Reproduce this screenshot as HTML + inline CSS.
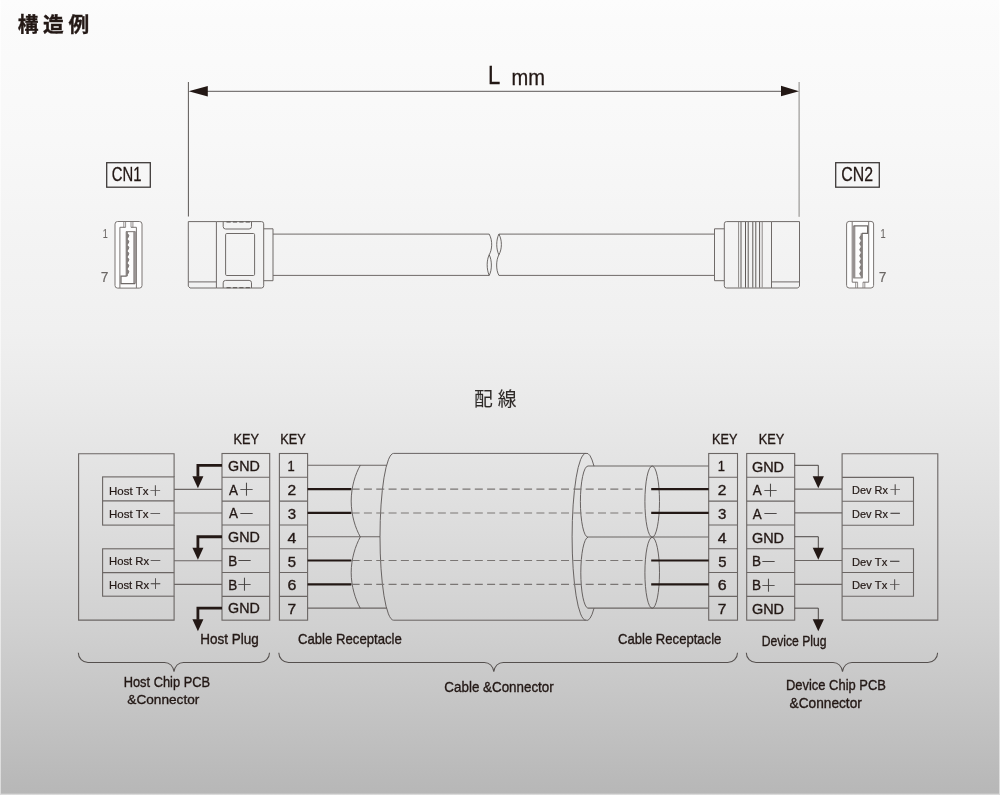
<!DOCTYPE html>
<html lang="ja">
<head>
<meta charset="utf-8">
<title>構造例</title>
<style>
html,body{margin:0;padding:0;background:#fff;}
body{width:1000px;height:795px;overflow:hidden;position:relative;}
#bg{position:absolute;left:0;top:0;width:1000px;height:795px;background:#f4f4f4;}
#grad{position:absolute;left:0;top:0;width:1000px;height:795px;background:linear-gradient(to bottom,#fcfcfc 0px,#fbfbfb 20px,#f8f8f8 140px,#f3f3f3 250px,#f0f0f0 330px,#ebebeb 390px,#e3e3e3 470px,#dadada 550px,#d0d0d0 630px,#c4c4c4 710px,#b9b9b9 780px,#b7b7b7 795px);}
.ed{position:absolute;background:rgba(255,255,255,.5);}
svg{position:absolute;left:0;top:0;will-change:transform;}
svg text{font-family:"Liberation Sans", "Noto Sans CJK JP", sans-serif;fill:#231815;stroke:#231815;}
</style>
</head>
<body>
<div id="bg"></div>
<div id="grad"></div>
<div class="ed" style="left:0;top:0;width:1px;height:795px"></div>
<div class="ed" style="left:999px;top:0;width:1px;height:795px"></div>
<div class="ed" style="left:1px;top:794px;width:998px;height:1px"></div>
<div class="ed" style="left:1px;top:793px;width:998px;height:1px;opacity:.35"></div>
<svg width="1000" height="795" viewBox="0 0 1000 795">
<text transform="translate(17.68 31.87) scale(1.0085 1)" font-size="20.56" font-weight="700" stroke-width="0.35" letter-spacing="4.60">構造例</text>
<g stroke="#4a4543" stroke-width="0.9" fill="none">
<path d="M188.4 82V216.5"/>
<path d="M799.1 82V216.8" stroke="#7d7977"/>
<path d="M200 91.3H790"/>
</g>
<path d="M188.6 91.3L207.8 86V96.6Z M799 91.2L781 85.8V96.2Z" fill="#231815"/>
<text transform="translate(487.88 84.00) scale(0.8718 1)" font-size="25.32" stroke-width="0.3">L</text>
<text transform="translate(511.54 84.60) scale(0.9395 1)" font-size="21.40" stroke-width="0.3">mm</text>
<g fill="none" stroke="#3e3a39" stroke-width="1.3"><rect x="106.7" y="162.7" width="43.6" height="24.5"/><rect x="835.7" y="162.7" width="43.6" height="24.5"/></g>
<text transform="translate(111.80 181.40) scale(0.7403 1)" font-size="20.05" stroke-width="0.28">CN1</text>
<text transform="translate(841.36 181.40) scale(0.7924 1)" font-size="20.05" stroke-width="0.28">CN2</text>
<g fill="none" stroke="#7a7573" stroke-width="1"><rect x="115" y="221.5" width="27" height="66.6" rx="2.6" fill="#fdfdfd"/><path d="M119.9 288V227.3H125.6 M131 227.3H136.4V288"/><path d="M123.8 221.5V227.3 M125.6 221.5V227.3 M131 221.5V227.3 M132.9 221.5V227.3" stroke-width="0.8"/><path d="M126.8 231.6V276.2" stroke-width="2.3" stroke="#8a8583"/><path d="M134.6 231.6V283.7" stroke-width="2.7" stroke="#969190"/><path d="M126 231.6H135.4" stroke="#8f8a88" stroke-width="1.2"/><path d="M126.7 276.2H121V283.7H135" stroke="#6f6a68" stroke-width="1.2"/><path d="M127.8 234.0q2.2 1.6 0 3.8zM127.8 240.0q2.2 1.6 0 3.8zM127.8 246.0q2.2 1.6 0 3.8zM127.8 252.0q2.2 1.6 0 3.8zM127.8 258.0q2.2 1.6 0 3.8zM127.8 264.0q2.2 1.6 0 3.8zM127.8 270.0q2.2 1.6 0 3.8z" stroke="#7a7573" stroke-width="0.8" fill="#8a8583"/></g>
<g transform="rotate(180 494.3 254.75)" fill="none" stroke="#7a7573" stroke-width="1"><rect x="115" y="221.5" width="27" height="66.6" rx="2.6" fill="#fdfdfd"/><path d="M119.9 288V227.3H125.6 M131 227.3H136.4V288"/><path d="M123.8 221.5V227.3 M125.6 221.5V227.3 M131 221.5V227.3 M132.9 221.5V227.3" stroke-width="0.8"/><path d="M126.8 231.6V276.2" stroke-width="2.3" stroke="#8a8583"/><path d="M134.6 231.6V283.7" stroke-width="2.7" stroke="#969190"/><path d="M126 231.6H135.4" stroke="#8f8a88" stroke-width="1.2"/><path d="M126.7 276.2H121V283.7H135" stroke="#6f6a68" stroke-width="1.2"/><path d="M127.8 234.0q2.2 1.6 0 3.8zM127.8 240.0q2.2 1.6 0 3.8zM127.8 246.0q2.2 1.6 0 3.8zM127.8 252.0q2.2 1.6 0 3.8zM127.8 258.0q2.2 1.6 0 3.8zM127.8 264.0q2.2 1.6 0 3.8zM127.8 270.0q2.2 1.6 0 3.8z" stroke="#7a7573" stroke-width="0.8" fill="#8a8583"/></g>
<text transform="translate(102.63 237.70) scale(0.6627 1)" font-size="13.65" stroke-width="0.15" style="fill:#6a6664;stroke:#6a6664">1</text>
<text transform="translate(100.85 281.70) scale(0.9949 1)" font-size="13.94" stroke-width="0.15" style="fill:#6a6664;stroke:#6a6664">7</text>
<text transform="translate(880.42 237.70) scale(0.6789 1)" font-size="13.65" stroke-width="0.15" style="fill:#6a6664;stroke:#6a6664">1</text>
<text transform="translate(878.85 281.70) scale(0.9949 1)" font-size="13.94" stroke-width="0.15" style="fill:#6a6664;stroke:#6a6664">7</text>
<g fill="none" stroke="#6f6a68" stroke-width="1">
<path d="M216.4 221.6H188.3V286.2L190 288H216.4"/>
<path d="M188.6 281.9H216.4"/>
<path d="M216.4 221.6H261.5Q263.7 221.6 263.7 223.8V285.8Q263.7 288 261.5 288H216.4Z"/>
<path d="M223.2 221.6V226.6Q223.2 229 225.6 229H249.1Q251.5 229 251.5 226.6V221.6"/>
<path d="M223.2 288V282.8Q223.2 280.4 225.6 280.4H249.1Q251.5 280.4 251.5 282.8V288"/>
<rect x="225.6" y="233.5" width="29" height="42" rx="1.2"/>
<path d="M226.5 222H250 M226.5 287.7H250" stroke="#55504e" stroke-width="1" stroke-dasharray="4.2 2.2"/>
<path d="M263.7 228.8H273V280.7H263.7"/>
<path d="M273 234.1H489.2 M273 275.4H489.2"/>
<path d="M498.9 234.1H714.5 M498.9 275.4H714.5"/>
<path d="M724.3 228.8H714.5V280.7H724.3"/>
<path d="M771.5 221.6H726.5Q724.3 221.6 724.3 223.8V285.8Q724.3 288 726.5 288H771.5"/>
<path d="M771.5 221.6H799.5V286.2L797.8 288H771.5Z"/>
<path d="M771.5 281.9H799.2"/>
<path d="M738.6 222V287.6 M762.2 222V287.6" stroke="#8d8987"/>
<path d="M741 222V287.6 M745.5 222V287.6 M748.2 222V287.6 M752.8 222V287.6 M755.8 222V287.6 M759.6 222V287.6" stroke="#5f5a58"/>
</g>
<g fill="none" stroke="#4a4543" stroke-width="0.8">
<path d="M489.2 234.1C493 241 492 250 489.2 254.8C486.6 260 486.4 269 489.2 275.4"/>
<path d="M489.2 254.8C492 260 492.2 270 489.2 275.4"/>
<path d="M498.9 234.1C496 240 496 249 498.9 254.8"/>
<path d="M498.9 234.1C502.2 240 502.2 249 498.9 254.8C496 260 495.8 270 498.9 275.4"/>
</g>
<text transform="translate(473.92 405.84) scale(1.0006 1)" font-size="18.77" stroke-width="0.1" style="fill:#2e2a28;stroke:#2e2a28" letter-spacing="5.00">配線</text>
<g fill="none" stroke="#6b6664" stroke-width="1.1">
<path d="M174.1 476.9V453.7H78.6V620.1H174.1V596.2 M174.1 525.1V548.8"/>
<rect x="102.6" y="476.9" width="71.5" height="48.2"/><path d="M102.6 500.9H174.1"/>
<rect x="102.6" y="548.8" width="71.5" height="47.4"/><path d="M102.6 572.6H174.1"/>
<path d="M842.1 453.7H937.8V620.1H842.1Z"/>
<path d="M842.1 477.4H913.5V525.2H842.1 M842.1 501.3H913.5"/>
<path d="M842.1 548.8H913.5V596.3H842.1 M842.1 572.5H913.5"/>
<rect x="222.0" y="453.5" width="47.7" height="166.67"/><path d="M222.0 477.31H269.7M222.0 501.12H269.7M222.0 524.93H269.7M222.0 548.74H269.7M222.0 572.55H269.7M222.0 596.36H269.7"/>
<rect x="279.4" y="453.5" width="28.2" height="166.67"/><path d="M279.4 477.31H307.6M279.4 501.12H307.6M279.4 524.93H307.6M279.4 548.74H307.6M279.4 572.55H307.6M279.4 596.36H307.6"/>
<rect x="708.7" y="453.5" width="28.8" height="166.67"/><path d="M708.7 477.31H737.5M708.7 501.12H737.5M708.7 524.93H737.5M708.7 548.74H737.5M708.7 572.55H737.5M708.7 596.36H737.5"/>
<rect x="746.7" y="453.5" width="48.0" height="166.67"/><path d="M746.7 477.31H794.7M746.7 501.12H794.7M746.7 524.93H794.7M746.7 548.74H794.7M746.7 572.55H794.7M746.7 596.36H794.7"/>
<path d="M174.1 489.41H222 M174.1 513.02H222 M174.1 560.74H222 M174.1 584.35H222"/>
<path d="M794.7 489.11H842.1 M794.7 512.92H842.1 M794.7 560.54H842.1 M794.7 584.35H842.1"/>
<path d="M307.6 465.30H386.6 M307.6 536.73H380 M307.6 608.16H386.6"/>
<path d="M588 466.00H708.7 M588 537.03H708.7 M588 608.16H708.7"/>
</g>
<g fill="none" stroke="#5a5553" stroke-width="0.9">
<path d="M585.8 453.4H393.6A13.6 83.4 0 0 0 393.6 620.2H585.8"/>
<path d="M585.8 453.4A13.7 83.4 0 0 0 585.8 620.2"/>
<path d="M585.8 453.4A13.7 83.4 0 0 1 594 466.2 M585.8 620.2A13.7 83.4 0 0 0 594 608.3"/>
<path d="M360.3 465.3C355.3 474 351.2 487 351.2 501.1C351.2 515 355.3 528 360.3 536.9C355.3 546 351.2 559 351.2 572.6C351.2 586 355.3 599.5 360.3 608.3"/>
<path d="M588 466A7.6 35.6 0 0 0 588 537.2A7.6 35.6 0 0 0 588 608.3"/>
<ellipse cx="652.2" cy="501.6" rx="7.3" ry="35.6"/><ellipse cx="652.2" cy="572.8" rx="7.3" ry="35.5"/>
</g>
<path d="M351.6 489.11H642.6M351.6 512.92H642.6M351.6 560.54H642.6M351.6 584.35H642.6" fill="none" stroke="#7a7674" stroke-width="1.05" stroke-dasharray="8 4.32"/>
<path d="M307.6 489.11H351.3M651.2 489.11H708.7M307.6 512.92H351.3M651.2 512.92H708.7M307.6 560.54H351.3M651.2 560.54H708.7M307.6 584.35H351.3M651.2 584.35H708.7" fill="none" stroke="#231815" stroke-width="2.1"/>
<path d="M222 465.30H197.9V476.80" fill="none" stroke="#231815" stroke-width="2.8"/>
<path d="M192.4 476.30H203.4L197.9 488.30Z" fill="#231815"/>
<path d="M222 536.73H197.9V548.23" fill="none" stroke="#231815" stroke-width="2.8"/>
<path d="M192.4 547.73H203.4L197.9 559.73Z" fill="#231815"/>
<path d="M222 608.16H197.9V619.66" fill="none" stroke="#231815" stroke-width="2.8"/>
<path d="M192.4 619.16H203.4L197.9 631.16Z" fill="#231815"/>
<path d="M794.7 465.30H818.3V476.80" fill="none" stroke="#4a4543" stroke-width="1"/>
<path d="M812.7 476.30H823.9L818.3 488.30Z" fill="#231815"/>
<path d="M794.7 536.73H818.3V548.23" fill="none" stroke="#4a4543" stroke-width="1"/>
<path d="M812.7 547.73H823.9L818.3 559.73Z" fill="#231815"/>
<path d="M794.7 608.16H818.3V619.66" fill="none" stroke="#4a4543" stroke-width="1"/>
<path d="M812.7 619.16H823.9L818.3 631.16Z" fill="#231815"/>
<g fill="none" stroke="#55504e" stroke-width="1.05">
<path d="M78.3 652.7A9.7 9.7 0 0 0 88.0 662.4H164.5C169.5 662.4 173.4 666.2 174.0 671.8C174.6 666.2 178.5 662.4 183.5 662.4H259.8A9.7 9.7 0 0 0 269.5 652.7"/>
<path d="M278.8 652.7A9.7 9.7 0 0 0 288.5 662.4H484.3C489.3 662.4 493.2 666.2 493.8 671.8C494.4 666.2 498.3 662.4 503.3 662.4H727.8A9.7 9.7 0 0 0 737.5 652.7"/>
<path d="M746.3 652.7A9.7 9.7 0 0 0 756.0 662.4H833.0C838.0 662.4 841.9 666.2 842.5 671.8C843.1 666.2 847.0 662.4 852.0 662.4H927.9A9.7 9.7 0 0 0 937.6 652.7"/>
</g>
<text transform="translate(233.51 444.20) scale(0.9026 1)" font-size="14.08" stroke-width="0.35">KEY</text>
<text transform="translate(280.30 444.20) scale(0.9063 1)" font-size="14.08" stroke-width="0.35">KEY</text>
<text transform="translate(712.01 444.20) scale(0.8989 1)" font-size="14.08" stroke-width="0.35">KEY</text>
<text transform="translate(758.80 444.20) scale(0.9063 1)" font-size="14.08" stroke-width="0.35">KEY</text>
<text transform="translate(228.03 470.90) scale(0.9394 1)" font-size="15.22" stroke-width="0.35">GND</text>
<text transform="translate(228.90 494.62) scale(0.8802 1)" font-size="15.22" stroke-width="0.35">A</text>
<text transform="translate(238.50 494.91) scale(1.0345 1)" font-size="15.47" font-weight="300" stroke-width="0.25" style="fill:#3e3a39;stroke:#3e3a39">＋</text>
<text transform="translate(228.90 518.34) scale(0.8802 1)" font-size="15.22" stroke-width="0.35">A</text>
<text transform="translate(238.50 518.62) scale(1.0000 1)" font-size="16.00" font-weight="300" stroke-width="0.25" style="fill:#3e3a39;stroke:#3e3a39">－</text>
<text transform="translate(228.03 542.06) scale(0.9394 1)" font-size="15.22" stroke-width="0.35">GND</text>
<text transform="translate(228.14 565.78) scale(0.8892 1)" font-size="15.22" stroke-width="0.35">B</text>
<text transform="translate(236.60 566.24) scale(1.0000 1)" font-size="16.00" font-weight="300" stroke-width="0.25" style="fill:#3e3a39;stroke:#3e3a39">－</text>
<text transform="translate(228.14 589.50) scale(0.8892 1)" font-size="15.22" stroke-width="0.35">B</text>
<text transform="translate(236.60 590.15) scale(1.0345 1)" font-size="15.47" font-weight="300" stroke-width="0.25" style="fill:#3e3a39;stroke:#3e3a39">＋</text>
<text transform="translate(228.03 613.22) scale(0.9394 1)" font-size="15.22" stroke-width="0.35">GND</text>
<text transform="translate(751.92 471.60) scale(0.9486 1)" font-size="15.22" stroke-width="0.35">GND</text>
<text transform="translate(752.80 495.32) scale(0.8802 1)" font-size="15.22" stroke-width="0.35">A</text>
<text transform="translate(762.40 495.61) scale(1.0345 1)" font-size="15.47" font-weight="300" stroke-width="0.25" style="fill:#3e3a39;stroke:#3e3a39">＋</text>
<text transform="translate(752.80 519.04) scale(0.8802 1)" font-size="15.22" stroke-width="0.35">A</text>
<text transform="translate(762.40 519.32) scale(1.0000 1)" font-size="16.00" font-weight="300" stroke-width="0.25" style="fill:#3e3a39;stroke:#3e3a39">－</text>
<text transform="translate(751.92 542.76) scale(0.9486 1)" font-size="15.22" stroke-width="0.35">GND</text>
<text transform="translate(752.04 566.48) scale(0.8892 1)" font-size="15.22" stroke-width="0.35">B</text>
<text transform="translate(760.50 566.94) scale(1.0000 1)" font-size="16.00" font-weight="300" stroke-width="0.25" style="fill:#3e3a39;stroke:#3e3a39">－</text>
<text transform="translate(752.04 590.20) scale(0.8892 1)" font-size="15.22" stroke-width="0.35">B</text>
<text transform="translate(760.50 590.85) scale(1.0345 1)" font-size="15.47" font-weight="300" stroke-width="0.25" style="fill:#3e3a39;stroke:#3e3a39">＋</text>
<text transform="translate(751.92 613.92) scale(0.9486 1)" font-size="15.22" stroke-width="0.35">GND</text>
<text transform="translate(287.49 471.40) scale(0.8600 1)" font-size="15.08" stroke-width="0.35">1</text>
<text transform="translate(287.47 495.21) scale(1.0330 1)" font-size="15.08" stroke-width="0.35">2</text>
<text transform="translate(287.73 519.02) scale(0.9997 1)" font-size="15.08" stroke-width="0.35">3</text>
<text transform="translate(287.45 542.83) scale(1.0549 1)" font-size="15.08" stroke-width="0.35">4</text>
<text transform="translate(287.84 566.64) scale(0.9860 1)" font-size="15.08" stroke-width="0.35">5</text>
<text transform="translate(287.45 590.45) scale(1.0613 1)" font-size="15.08" stroke-width="0.35">6</text>
<text transform="translate(287.57 614.26) scale(1.0330 1)" font-size="15.08" stroke-width="0.35">7</text>
<text transform="translate(717.79 471.40) scale(0.8600 1)" font-size="15.08" stroke-width="0.35">1</text>
<text transform="translate(717.77 495.21) scale(1.0330 1)" font-size="15.08" stroke-width="0.35">2</text>
<text transform="translate(718.03 519.02) scale(0.9997 1)" font-size="15.08" stroke-width="0.35">3</text>
<text transform="translate(717.75 542.83) scale(1.0549 1)" font-size="15.08" stroke-width="0.35">4</text>
<text transform="translate(718.14 566.64) scale(0.9860 1)" font-size="15.08" stroke-width="0.35">5</text>
<text transform="translate(717.75 590.45) scale(1.0613 1)" font-size="15.08" stroke-width="0.35">6</text>
<text transform="translate(717.87 614.26) scale(1.0330 1)" font-size="15.08" stroke-width="0.35">7</text>
<text transform="translate(109.00 494.90) scale(0.9763 1)" font-size="11.80" stroke-width="0.2">Host Tx</text>
<text transform="translate(148.92 494.80) scale(0.9896 1)" font-size="12.80" font-weight="300" stroke-width="0.25" style="fill:#3e3a39;stroke:#3e3a39">＋</text>
<text transform="translate(109.00 517.80) scale(0.9763 1)" font-size="11.80" stroke-width="0.2">Host Tx</text>
<text transform="translate(148.92 517.96) scale(0.9383 1)" font-size="13.50" font-weight="300" stroke-width="0.25" style="fill:#3e3a39;stroke:#3e3a39">－</text>
<text transform="translate(109.02 564.70) scale(0.9572 1)" font-size="11.80" stroke-width="0.2">Host Rx</text>
<text transform="translate(149.33 564.86) scale(0.9284 1)" font-size="13.50" font-weight="300" stroke-width="0.25" style="fill:#3e3a39;stroke:#3e3a39">－</text>
<text transform="translate(109.02 588.50) scale(0.9572 1)" font-size="11.80" stroke-width="0.2">Host Rx</text>
<text transform="translate(149.33 588.40) scale(0.9792 1)" font-size="12.80" font-weight="300" stroke-width="0.25" style="fill:#3e3a39;stroke:#3e3a39">＋</text>
<text transform="translate(852.04 494.40) scale(0.9291 1)" font-size="11.80" stroke-width="0.2">Dev Rx</text>
<text transform="translate(888.95 494.30) scale(0.9687 1)" font-size="12.80" font-weight="300" stroke-width="0.25" style="fill:#3e3a39;stroke:#3e3a39">＋</text>
<text transform="translate(852.04 518.20) scale(0.9291 1)" font-size="11.80" stroke-width="0.2">Dev Rx</text>
<text transform="translate(888.95 518.36) scale(0.9185 1)" font-size="13.50" font-weight="300" stroke-width="0.25" style="fill:#3e3a39;stroke:#3e3a39">－</text>
<text transform="translate(852.02 565.60) scale(0.9489 1)" font-size="11.80" stroke-width="0.2">Dev Tx</text>
<text transform="translate(888.45 565.76) scale(0.9185 1)" font-size="13.50" font-weight="300" stroke-width="0.25" style="fill:#3e3a39;stroke:#3e3a39">－</text>
<text transform="translate(852.02 589.20) scale(0.9489 1)" font-size="11.80" stroke-width="0.2">Dev Tx</text>
<text transform="translate(888.45 589.10) scale(0.9688 1)" font-size="12.80" font-weight="300" stroke-width="0.25" style="fill:#3e3a39;stroke:#3e3a39">＋</text>
<text transform="translate(200.24 644.00) scale(0.9429 1)" font-size="14.36" stroke-width="0.35">Host Plug</text>
<text transform="translate(297.98 644.00) scale(0.9069 1)" font-size="14.51" stroke-width="0.35">Cable Receptacle</text>
<text transform="translate(617.99 644.00) scale(0.9034 1)" font-size="14.51" stroke-width="0.35">Cable Receptacle</text>
<text transform="translate(761.65 646.10) scale(0.8717 1)" font-size="13.94" stroke-width="0.35">Device Plug</text>
<text transform="translate(123.70 686.50) scale(0.9130 1)" font-size="14.08" stroke-width="0.35">Host Chip PCB</text>
<text transform="translate(127.37 703.60) scale(0.9999 1)" font-size="13.65" stroke-width="0.35">&amp;Connector</text>
<text transform="translate(444.37 692.00) scale(0.9328 1)" font-size="14.36" stroke-width="0.35">Cable &amp;Connector</text>
<text transform="translate(785.99 690.00) scale(0.9107 1)" font-size="14.22" stroke-width="0.35">Device Chip PCB</text>
<text transform="translate(789.57 707.50) scale(0.9723 1)" font-size="14.08" stroke-width="0.35">&amp;Connector</text>
</svg>
</body>
</html>
